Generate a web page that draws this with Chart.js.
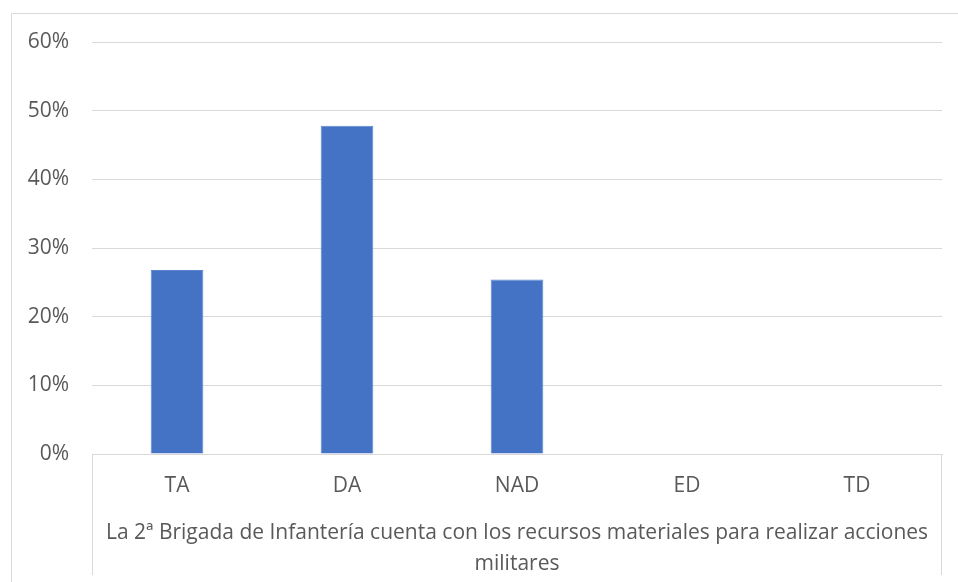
<!DOCTYPE html>
<html>
<head>
<meta charset="utf-8">
<script src="https://cdn.jsdelivr.net/npm/chart.js"></script>
<style>
  html, body { margin: 0; padding: 0; background: #fff; }
  canvas { display: block; }
</style>
</head>
<body>
<canvas id="myChart" width="958" height="582"></canvas>
<script>
// categories and values (fraction of answers)
const categories = ['TA', 'DA', 'NAD', 'ED', 'TD'];
const values = [0.268, 0.478, 0.254, 0, 0];
const yTicks = [0, 0.1, 0.2, 0.3, 0.4, 0.5, 0.6];
const groupLabel = ['La 2ª Brigada de Infantería cuenta con los recursos materiales para realizar acciones', 'militares'];

const fontFamily = '"Open Sans", sans-serif';
const fontSize = 21;
const textColor = '#595959';
const lineColor = '#D9D9D9';

// outer frame, edge lines of the category axis and the group label
const excelFrame = {
    id: 'excelFrame',
    beforeDraw(chart) {
        const ctx = chart.ctx;
        ctx.save();
        ctx.strokeStyle = lineColor;
        ctx.lineWidth = 1;
        ctx.beginPath();
        ctx.moveTo(11.5, chart.height);
        ctx.lineTo(11.5, 13.5);
        ctx.lineTo(chart.width, 13.5);
        ctx.stroke();
        ctx.restore();
    },
    afterDraw(chart) {
        const ctx = chart.ctx;
        const area = chart.chartArea;
        ctx.save();
        ctx.strokeStyle = lineColor;
        ctx.lineWidth = 1;
        ctx.beginPath();
        ctx.moveTo(Math.round(area.left) + 0.5, area.bottom);
        ctx.lineTo(Math.round(area.left) + 0.5, 575);
        ctx.moveTo(Math.round(area.right) - 0.5, area.bottom);
        ctx.lineTo(Math.round(area.right) - 0.5, 575);
        ctx.stroke();
        ctx.fillStyle = textColor;
        ctx.font = fontSize + 'px ' + fontFamily;
        ctx.textAlign = 'center';
        ctx.textBaseline = 'middle';
        const cx = (area.left + area.right) / 2;
        groupLabel.forEach((line, i) => {
            ctx.fillText(line, cx, 533 + i * 31);
        });
        ctx.restore();
    }
};

const ctx = document.getElementById('myChart').getContext('2d');
const chart = new Chart(ctx, {
    type: 'bar',
    data: {
        labels: categories,
        datasets: [{
            data: values,
            backgroundColor: '#4472C4',
            borderColor: '#5B85D0',
            borderWidth: 1,
            categoryPercentage: 1,
            barPercentage: 0.31
        }]
    },
    options: {
        responsive: false,
        animation: false,
        layout: { padding: { top: 42, right: 16, left: 0, bottom: 0 } },
        plugins: {
            legend: { display: false },
            tooltip: { enabled: false }
        },
        scales: {
            x: {
                grid: { display: false, drawTicks: false },
                border: { display: true, color: lineColor, width: 1 },
                ticks: {
                    color: textColor,
                    font: { family: fontFamily, size: fontSize },
                    padding: 19
                },
                afterFit(scale) { scale.height = 128; }
            },
            y: {
                min: 0,
                max: 0.6,
                afterBuildTicks(scale) {
                    scale.ticks = yTicks.map(v => ({ value: v }));
                },
                grid: { color: lineColor, drawTicks: false },
                border: { display: false },
                ticks: {
                    color: textColor,
                    font: { family: fontFamily, size: fontSize },
                    padding: 23,
                    callback: v => Math.round(v * 100) + '%'
                },
                afterFit(scale) { scale.width = 92; }
            }
        }
    },
    plugins: [excelFrame]
});
</script>
</body>
</html>
